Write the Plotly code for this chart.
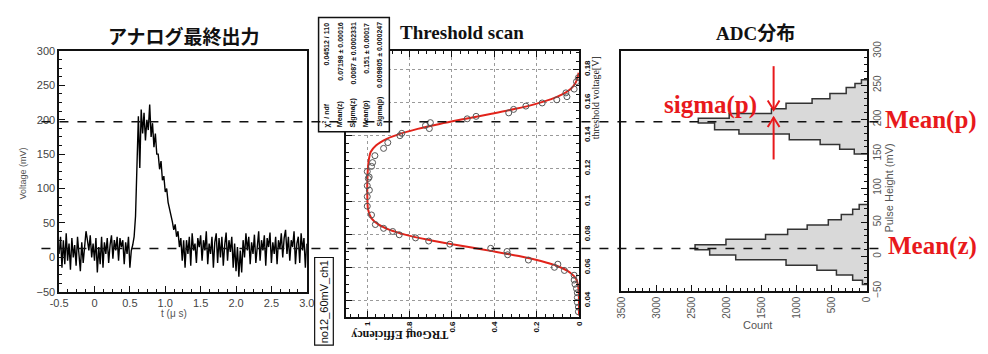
import plotly.graph_objects as go

W, H = 988, 354
def px(x): return x / W
def py(y): return 1 - y / H

# ---------------- data ----------------
# Panel 1: analog output waveform (mV), sampled every 0.02 us from -0.5 us
wave_start_us = -0.5
wave_step_us = 0.02
wave_mv = [
    5, 30, -15, 25, -10, 35, -5, 20, -18, 28,
    0, 18, -12, 30, 5, -20, 22, -8, 15, 38,
    25, 10, 32, 0, 20, -5, 28, -22, 15, -10,
    30, -15, 22, 5, 28, -8, 18, 32, -2, 25,
    10, 30, -5, 28, 15, 25, -10, 22, 5, 30,
    -15, 10, 18, 30, 60, 150, 205, 130, 215, 180,
    210, 170, 200, 185, 222, 175, 195, 160, 180, 150,
    150, 128, 140, 112, 118, 95, 100, 80, 72, 62,
    52, 40, 48, 30, 38, 15, 28, -5, 25, -15,
    25, 5, 30, -12, 35, 10, 20, -8, 28, 15,
    32, -5, 25, 10, 38, -10, 20, 5, 30, -15,
    22, 35, -8, 28, 0, 30, -12, 18, 36, -5,
    25, 8, 30, -15, 20, -20, 15, -28, 10, -22,
    25, 0, 35, 10, 30, -10, 22, 5, 33, -8,
    20, 38, -5, 25, 10, 32, -12, 28, 15, 36,
    -8, 22, 5, 30, -10, 25, 12, 35, 0, 28,
    40, 5, 30, -5, 25, 15, 38, -10, 20, 30,
    -8, 35, 10, 28, -15, 20,
]
wave_t = [round(wave_start_us + wave_step_us * i, 3) for i in range(len(wave_mv))]

# Panel 2: threshold scan measured points
scan_thr = [0.0333, 0.0361, 0.0390, 0.0419, 0.0448, 0.0473, 0.0500, 0.0525, 0.0554, 0.0583,
            0.0602, 0.0621, 0.0646, 0.0678, 0.0698, 0.0717, 0.0742, 0.0761, 0.0780, 0.0799,
            0.0819, 0.0838, 0.0861, 0.0919, 0.0972, 0.1030, 0.1069, 0.1096, 0.1140, 0.1149,
            0.1182, 0.1213, 0.1236, 0.1278, 0.1322, 0.1357, 0.1399, 0.1413, 0.1442, 0.1461,
            0.1478, 0.1501, 0.1516, 0.1537, 0.1558, 0.1578, 0.1597, 0.1616, 0.1635, 0.1658,
            0.1681, 0.1726, 0.1750]
scan_eff = [0.003, 0.003, 0.008, 0.008, 0.008, 0.012, 0.019, 0.023, 0.023, 0.069,
            0.116, 0.100, 0.239, 0.337, 0.340, 0.417, 0.610, 0.710, 0.772, 0.849,
            0.880, 0.923, 0.962, 0.980, 1.000, 1.000, 0.990, 1.000, 0.995, 0.991,
            1.000, 0.980, 0.975, 0.964, 0.923, 0.903, 0.846, 0.837, 0.707, 0.725,
            0.702, 0.528, 0.486, 0.332, 0.309, 0.251, 0.174, 0.105, 0.057, 0.062,
            0.023, 0.012, 0.003]

# Panel 2: fitted curve
fit_thr = [0.031, 0.040, 0.045, 0.050, 0.053, 0.055, 0.058, 0.061, 0.064, 0.067,
           0.070, 0.072, 0.074, 0.077, 0.080, 0.083, 0.086, 0.090, 0.095, 0.100,
           0.105, 0.110, 0.115, 0.120, 0.125, 0.130, 0.134, 0.138, 0.141, 0.144,
           0.147, 0.150, 0.153, 0.156, 0.159, 0.162, 0.165, 0.168, 0.172, 0.176, 0.178]
fit_eff = [0.0, 0.0, 0.001, 0.006, 0.013, 0.025, 0.054, 0.103, 0.18, 0.284,
           0.41, 0.50, 0.592, 0.718, 0.822, 0.897, 0.946, 0.981, 0.996, 0.999,
           1.0, 1.0, 0.999, 0.997, 0.993, 0.984, 0.959, 0.908, 0.846, 0.762,
           0.658, 0.541, 0.419, 0.305, 0.207, 0.131, 0.077, 0.041, 0.016, 0.005, 0.002]

fit_labels = ["χ<sup>2</sup> / ndf", "Mean(z)", "Sigma(z)", "Mean(p)", "Sigma(p)"]
fit_values = ["0.04512 / 110", "0.07198 ± 0.00016", "0.0087 ± 0.0002331",
              "0.151 ± 0.00017", "0.009805 ± 0.000247"]

# Panel 3: ADC pulse-height histograms (bin edges in mV, counts)
hist_p_edges = [149.7, 156.6, 163.5, 170.4, 178.7, 185.2, 195.0, 201.8, 208.7, 215.6,
                223.5, 230.4, 238.0, 246.5, 252.5, 258.0]
hist_p_counts = [181, 389, 667, 1107, 1824, 2171, 2403, 1963, 1361, 1153, 782, 528, 296, 171, 79]
hist_z_edges = [-40.6, -34.7, -26.8, -19.9, -12.6, -4.7, 2.2, 10.0, 17.4, 25.2, 32.1,
                40.0, 45.9, 53.8, 61.2, 69.0, 76.0]
hist_z_counts = [65, 204, 435, 713, 1153, 1870, 2241, 2449, 2009, 1445, 1130, 852, 551, 366, 204, 111]

# Mean levels (mV) drawn as dashed lines across the figure
mean_p_mv = 197
mean_z_mv = 13

# ---------------- helpers ----------------
def step_outline(edges, counts):
    xs, ys = [0], [edges[0]]
    for i, c in enumerate(counts):
        xs += [c, c]
        ys += [edges[i], edges[i + 1]]
    xs.append(0)
    ys.append(edges[-1])
    return xs, ys

fig = go.Figure()

fig.add_trace(go.Scatter(x=wave_t, y=wave_mv, mode="lines",
                         line=dict(color="black", width=1.4), xaxis="x", yaxis="y"))

fig.add_trace(go.Scatter(x=fit_eff, y=fit_thr, mode="lines", line_shape="spline",
                         line=dict(color="#e2231a", width=2), xaxis="x2", yaxis="y2"))
fig.add_trace(go.Scatter(x=scan_eff, y=scan_thr, mode="markers",
                         marker=dict(symbol="circle-open", size=6, color="#555",
                                     line=dict(width=1)),
                         xaxis="x2", yaxis="y2"))

for edges, counts in ((hist_p_edges, hist_p_counts), (hist_z_edges, hist_z_counts)):
    hx, hy = step_outline(edges, counts)
    fig.add_trace(go.Scatter(x=hx, y=hy, mode="lines", fill="toself",
                             fillcolor="#d9d9d9", line=dict(color="#333", width=1.5),
                             xaxis="x3", yaxis="y3"))

tf1 = dict(family="Liberation Sans", size=11, color="#444")
tf2 = dict(family="Liberation Sans", size=8, color="#111", weight="bold")
tf3 = dict(family="Liberation Sans", size=10, color="#555")

common = dict(showline=True, linecolor="#111", linewidth=1.5, zeroline=False,
              ticks="inside", tickcolor="#111", ticklen=6)

fig.update_layout(
    width=W, height=H, margin=dict(l=0, r=0, t=0, b=0),
    paper_bgcolor="white", plot_bgcolor="white", showlegend=False,
    xaxis=dict(domain=[px(51), px(303)], range=[-0.5, 3.0], anchor="y",
               tickvals=[-0.5, 0, 0.5, 1.0, 1.5, 2.0, 2.5, 3.0],
               ticktext=["-0.5", "0", "0.5", "1.0", "1.5", "2.0", "2.5", "3.0"],
               tickfont=tf1, showgrid=False, mirror=True,
               minor=dict(ticks="inside", ticklen=3, dtick=0.125, tickcolor="#111"),
               **common),
    yaxis=dict(domain=[py(296), py(43)], range=[-50, 300], anchor="x",
               dtick=50, tickfont=tf1, showgrid=False, mirror=True,
               minor=dict(ticks="inside", ticklen=3, dtick=12.5, tickcolor="#111"),
               **common),
    xaxis2=dict(domain=[px(343), px(580)], range=[1.1, 0], anchor="y2",
                tickvals=[0, 0.2, 0.4, 0.6, 0.8, 1.0],
                ticktext=["0", "0.2", "0.4", "0.6", "0.8", "1"],
                tickangle=-90, tickfont=tf2, mirror="ticks",
                showgrid=True, gridcolor="#9a9a9a", griddash="dot", gridwidth=1,
                minor=dict(ticks="inside", ticklen=3, dtick=0.04, tickcolor="#111"),
                **common),
    yaxis2=dict(domain=[py(322), py(43)], range=[0.0304, 0.1912], anchor="x2", side="right",
                tickvals=[0.04, 0.06, 0.08, 0.10, 0.12, 0.14, 0.16, 0.18],
                ticktext=["0.04", "0.06", "0.08", "0.1", "0.12", "0.14", "0.16", "0.18"],
                tickangle=-90, tickfont=tf2, mirror="ticks",
                showgrid=True, gridcolor="#9a9a9a", griddash="dot", gridwidth=1,
                minor=dict(ticks="inside", ticklen=3, dtick=0.005, tickcolor="#111"),
                **common),
    xaxis3=dict(domain=[px(623), px(873)], range=[3500, 0], anchor="y3",
                tickvals=[0, 500, 1000, 1500, 2000, 2500, 3000, 3500],
                tickangle=-90, tickfont=tf3, showgrid=False, mirror=True,
                minor=dict(ticks="inside", ticklen=3, dtick=100, tickcolor="#111"),
                **common),
    yaxis3=dict(domain=[py(295), py(43)], range=[-50, 300], anchor="x3", side="right",
                dtick=50, tickangle=-90, tickfont=tf3, showgrid=False, mirror=True,
                minor=dict(ticks="inside", ticklen=3, dtick=10, tickcolor="#111"),
                **common),
)

red = "#e8191c"
shapes = []
# fit statistics box
shapes.append(dict(type="rect", xref="paper", yref="paper", x0=px(315), x1=px(387),
                   y0=py(128), y1=py(8), line=dict(color="#111", width=1.5),
                   fillcolor="white", layer="above"))
# run name box
shapes.append(dict(type="rect", xref="paper", yref="paper", x0=px(311), x1=px(330),
                   y0=py(352), y1=py(260), line=dict(color="#111", width=1.2),
                   fillcolor="white", layer="above"))
for lvl in (mean_p_mv, mean_z_mv):
    shapes.append(dict(type="line", xref="paper", yref="y", x0=px(33), x1=px(893),
                       y0=lvl, y1=lvl, line=dict(color="#111", width=1.5, dash="dash"),
                       layer="above"))
# sigma(p) arrows: shafts and open chevron heads
ax_x = 778
for y_tail, y_tip in ((59, 105), (157, 113)):
    shapes.append(dict(type="line", xref="paper", yref="paper", x0=px(ax_x), x1=px(ax_x),
                       y0=py(y_tail), y1=py(y_tip), line=dict(color=red, width=2),
                       layer="above"))
    d = 10 if y_tip < y_tail else -10
    path = "M {a},{b} L {c},{e} L {f},{g}".format(
        a=px(ax_x - 6), b=py(y_tip + d), c=px(ax_x), e=py(y_tip),
        f=px(ax_x + 6), g=py(y_tip + d))
    shapes.append(dict(type="path", xref="paper", yref="paper", path=path,
                       line=dict(color=red, width=2), layer="above"))
fig.update_layout(shapes=shapes)

ann = []
def text(x, y, s, size, color="#111", family="Liberation Sans", angle=0,
         xanchor="center", yanchor="middle"):
    ann.append(dict(x=px(x), y=py(y), xref="paper", yref="paper", text=s, showarrow=False,
                    font=dict(family=family, size=size, color=color), textangle=angle,
                    xanchor=xanchor, yanchor=yanchor))

serif = "Liberation Serif, Noto Sans CJK JP"
text(178, 27, "<b>アナログ最終出力</b>", 19, family="Noto Sans CJK JP")
text(461, 24, "<b>Threshold scan</b>", 19, family=serif)
text(760, 25, "<b>ADC分布</b>", 19, family=serif)

text(14, 172, "Voltage (mV)", 9, color="#555", angle=-90)
text(168, 319, "t (μ s)", 10, color="#555")
text(398, 342, "<b>TRGout Efficiency</b>", 12, family="Liberation Serif", angle=180)
text(597, 92, "threshold voltage[V]", 10, family="Liberation Serif", angle=-90)
text(762, 331, "Count", 11, color="#555")
text(895, 187, "Pulse Height (mV)", 11, color="#555", angle=-90)

text(320.5, 306, "no12_60mV_ch1", 11, angle=-90)

col_x = [324, 337, 351, 364, 377]
for cx, lab, val in zip(col_x, fit_labels, fit_values):
    text(cx, 125, "<b>" + lab + "</b>", 7, angle=-90, yanchor="bottom")
    text(cx, 11, "<b>" + val + "</b>", 7, angle=-90, yanchor="top")

text(714, 100, "<b>sigma(p)</b>", 25, color=red, family="Liberation Serif")
text(987, 116, "<b>Mean(p)</b>", 25, color=red, family="Liberation Serif", xanchor="right")
text(987, 248, "<b>Mean(z)</b>", 25, color=red, family="Liberation Serif", xanchor="right")

fig.update_layout(annotations=ann)
fig.write_html("out.html")
